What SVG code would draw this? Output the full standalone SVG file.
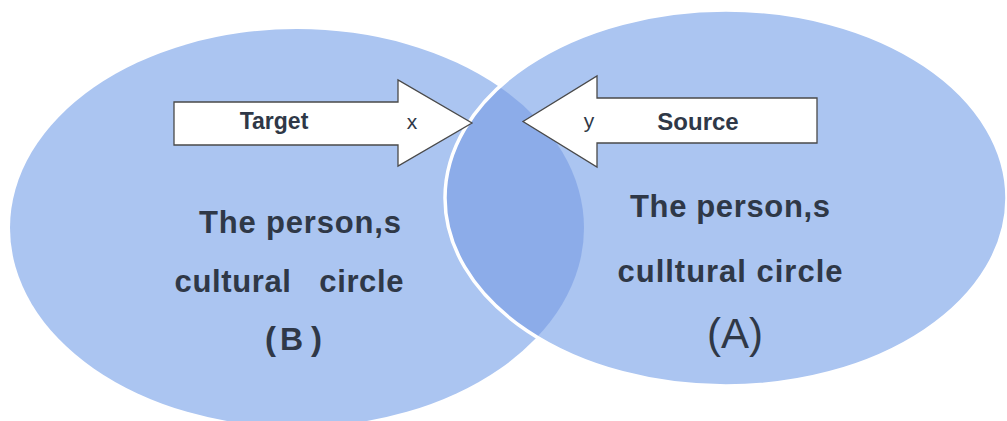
<svg xmlns="http://www.w3.org/2000/svg" width="1007" height="421" viewBox="0 0 1007 421">
  <style>
    .circle { fill: #abc5f1; }
    .overlap { fill: #8cace9; }
    .outline { fill: none; stroke: #ffffff; stroke-width: 3.5; }
    .arrow { fill: #ffffff; stroke: #4a4a4a; stroke-width: 1.3; stroke-linejoin: miter; }
    .lbl { font-family: "Liberation Sans", Arial, sans-serif; fill: #2f3847; }
    .b { font-weight: bold; }
    .big { font-size: 31px; font-weight: bold; white-space: pre; }
  </style>
  <defs>
    <clipPath id="leftClip">
      <ellipse cx="297" cy="228" rx="287" ry="199"/>
    </clipPath>
  </defs>
  <rect x="0" y="0" width="1007" height="421" fill="#ffffff"/>

  <g id="circle-B">
    <ellipse class="circle" cx="297" cy="228" rx="287" ry="199"/>
  </g>
  <g id="circle-A">
    <ellipse class="circle" cx="726" cy="198" rx="281" ry="188"/>
    <ellipse class="overlap" cx="726" cy="198" rx="281" ry="188" clip-path="url(#leftClip)"/>
    <ellipse class="outline" cx="726" cy="198" rx="281" ry="188"/>
  </g>

  <g id="connectors">
    <g id="arrow-target">
      <path class="arrow" d="M174,102 L398,102 L398,80 L472,123 L398,166 L398,145 L174,145 Z"/>
      <text class="lbl b" x="274" y="129" font-size="23" text-anchor="middle">Target</text>
      <text class="lbl" x="412" y="129" font-size="21" text-anchor="middle">x</text>
    </g>
    <g id="arrow-source">
      <path class="arrow" d="M817,98 L597,98 L597,76 L523,121.5 L597,167 L597,143 L817,143 Z"/>
      <text class="lbl" x="589" y="128" font-size="21" text-anchor="middle">y</text>
      <text class="lbl b" x="698" y="130" font-size="24" text-anchor="middle">Source</text>
    </g>
  </g>

  <g id="label-B">
    <text class="lbl big" x="300" y="233" text-anchor="middle" textLength="202">The person,s</text>
    <text class="lbl big" x="289" y="292" text-anchor="middle" textLength="229">cultural   circle</text>
    <text class="lbl b" y="350"><tspan x="265" font-size="33">(</tspan><tspan x="280" font-size="32">B</tspan><tspan x="311" font-size="33">)</tspan></text>
  </g>

  <g id="label-A">
    <text class="lbl big" x="730" y="217" text-anchor="middle" textLength="200">The person,s</text>
    <text class="lbl big" x="730" y="282" text-anchor="middle" textLength="225">culltural circle</text>
    <text class="lbl" x="735" y="348" font-size="42" text-anchor="middle">(A)</text>
  </g>
</svg>
